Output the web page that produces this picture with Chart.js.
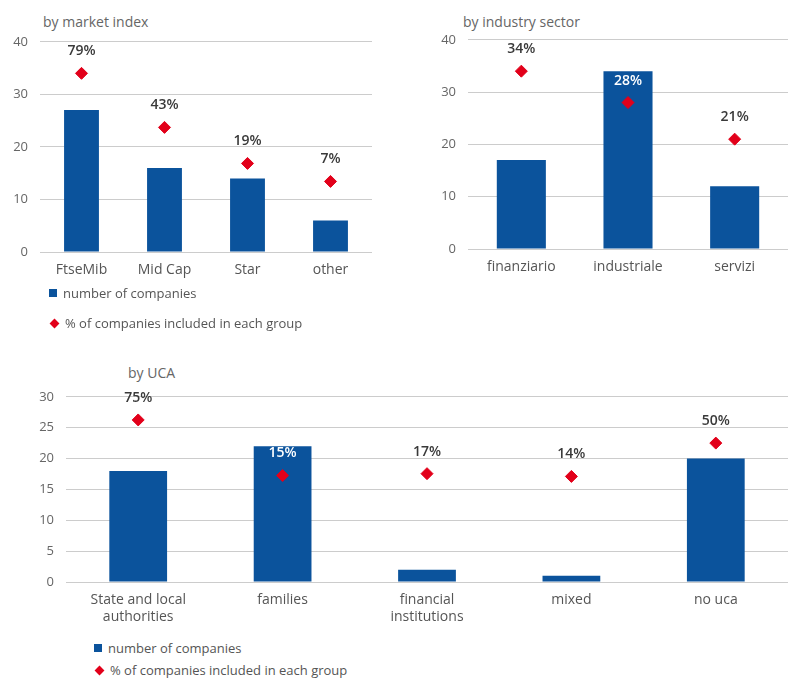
<!DOCTYPE html>
<html>
<head>
<meta charset="utf-8">
<script src="https://cdn.jsdelivr.net/npm/chart.js@4.4.1/dist/chart.umd.min.js"></script>
<style>
  body { margin: 0; background: #fff; font-family: "Open Sans", sans-serif; }
  #wrap { position: relative; width: 795px; height: 680px; overflow: hidden; }
  canvas { position: absolute; }
  .title { position: absolute; font-size: 14px; color: #666; white-space: nowrap; }
  .legend { position: absolute; font-size: 13px; color: #555; white-space: nowrap; }
  .legend div { height: 30px; line-height: 20px; }
  .legend.tight div { height: 22px; }
  .sq { display: inline-block; width: 8px; height: 8px; background: #0b539c; margin-right: 6px; vertical-align: 1px; }
  .dm { display: inline-block; width: 7px; height: 7px; background: #e2001a; transform: rotate(45deg); margin: 0 7px 0 2px; vertical-align: 1px; }
</style>
</head>
<body>
<div id="wrap">
  <div class="title" style="left:43px; top:12px;">by market index</div>
  <div class="title" style="left:463px; top:12px;">by industry sector</div>
  <div class="title" style="left:128px; top:363px;">by UCA</div>

  <canvas id="marketChart" width="385" height="264" style="left:0; top:22px;"></canvas>
  <canvas id="sectorChart" width="375" height="259" style="left:420px; top:20px;"></canvas>
  <canvas id="ucaChart" width="795" height="248" style="left:0; top:377px;"></canvas>

  <div class="legend" style="left:49px; top:283px;">
    <div><span class="sq"></span>number of companies</div>
    <div><span class="dm"></span>% of companies included in each group</div>
  </div>
  <div class="legend tight" style="left:94px; top:638px;">
    <div><span class="sq"></span>number of companies</div>
    <div><span class="dm"></span>% of companies included in each group</div>
  </div>
</div>

<script>
// ---- data ----
const marketLabels = ['FtseMib', 'Mid Cap', 'Star', 'other'];
const marketCount = [27, 16, 14, 6];
const marketPct = [79, 43, 19, 7];

const sectorLabels = ['finanziario', 'industriale', 'servizi'];
const sectorCount = [17, 34, 12];
const sectorPct = [34, 28, 21];

const ucaLabels = [['State and local', 'authorities'], 'families', ['financial', 'institutions'], 'mixed', 'no uca'];
const ucaCount = [18, 22, 2, 1, 20];
const ucaPct = [75, 15, 17, 14, 50];

const BLUE = '#0b539c';
const RED = '#e2001a';

// writes the "xx%" over each diamond, white when it sits inside a bar
const pctLabelPlugin = {
    id: 'pctLabels',
    afterDatasetsDraw(chart) {
        const ctx = chart.ctx;
        const bars = chart.getDatasetMeta(0).data;
        const pts = chart.getDatasetMeta(1).data;
        const vals = chart.data.datasets[1].data;
        ctx.save();
        ctx.font = '600 14px "Open Sans", sans-serif';
        ctx.textAlign = 'center';
        ctx.textBaseline = 'middle';
        pts.forEach((p, i) => {
            const ty = p.y - 22;
            const b = bars[i];
            const inside = ty > b.y && Math.abs(p.x - b.x) < b.width / 2;
            ctx.fillStyle = inside ? '#ffffff' : '#3a3a3a';
            ctx.fillText(vals[i] + '%', p.x, ty);
        });
        ctx.restore();
    }
};

function makeChart(id, labels, counts, pcts, opt) {
    new Chart(document.getElementById(id), {
        type: 'bar',
        data: {
            labels: labels,
            datasets: [{
                data: counts,
                backgroundColor: BLUE,
                barPercentage: opt.barPct,
                categoryPercentage: 1,
                order: 1
            }, {
                type: 'line',
                data: pcts,
                yAxisID: 'y1',
                showLine: false,
                pointStyle: 'rectRot',
                pointRadius: 6,
                pointBackgroundColor: RED,
                pointBorderColor: RED,
                order: 0
            }]
        },
        options: {
            responsive: false,
            animation: false,
            layout: { padding: { top: 4, right: opt.right } },
            plugins: {
                legend: false,
                tooltip: { enabled: false }
            },
            scales: {
                x: {
                    grid: { display: false },
                    border: { display: false },
                    ticks: {
                        color: '#555',
                        font: { family: 'Open Sans', size: 14, lineHeight: 1.25 },
                        padding: 1,
                        maxRotation: 0,
                        autoSkip: false
                    },
                    afterFit: s => { s.height = opt.xh; }
                },
                y: {
                    min: 0,
                    max: opt.max,
                    ticks: {
                        stepSize: opt.step,
                        color: '#666',
                        font: { family: 'Open Sans', size: 13 },
                        padding: 12
                    },
                    grid: { color: '#cccccc', drawTicks: false },
                    border: { display: false },
                    afterFit: s => { s.width = opt.yw; }
                },
                y1: {
                    display: false,
                    min: opt.pmin,
                    max: opt.pmax
                }
            }
        },
        plugins: [pctLabelPlugin]
    });
}

makeChart('marketChart', marketLabels, marketCount, marketPct,
    { barPct: 0.42, right: 13, xh: 34, yw: 40, max: 40, step: 10, pmin: -40, pmax: 100 });
makeChart('sectorChart', sectorLabels, sectorCount, sectorPct,
    { barPct: 0.46, right: 0, xh: 30, yw: 48, max: 40, step: 10, pmin: 0, pmax: 40 });
makeChart('ucaChart', ucaLabels, ucaCount, ucaPct,
    { barPct: 0.4, right: 0, xh: 43, yw: 66, max: 30, step: 5, pmin: -100, pmax: 100 });
</script>
</body>
</html>
